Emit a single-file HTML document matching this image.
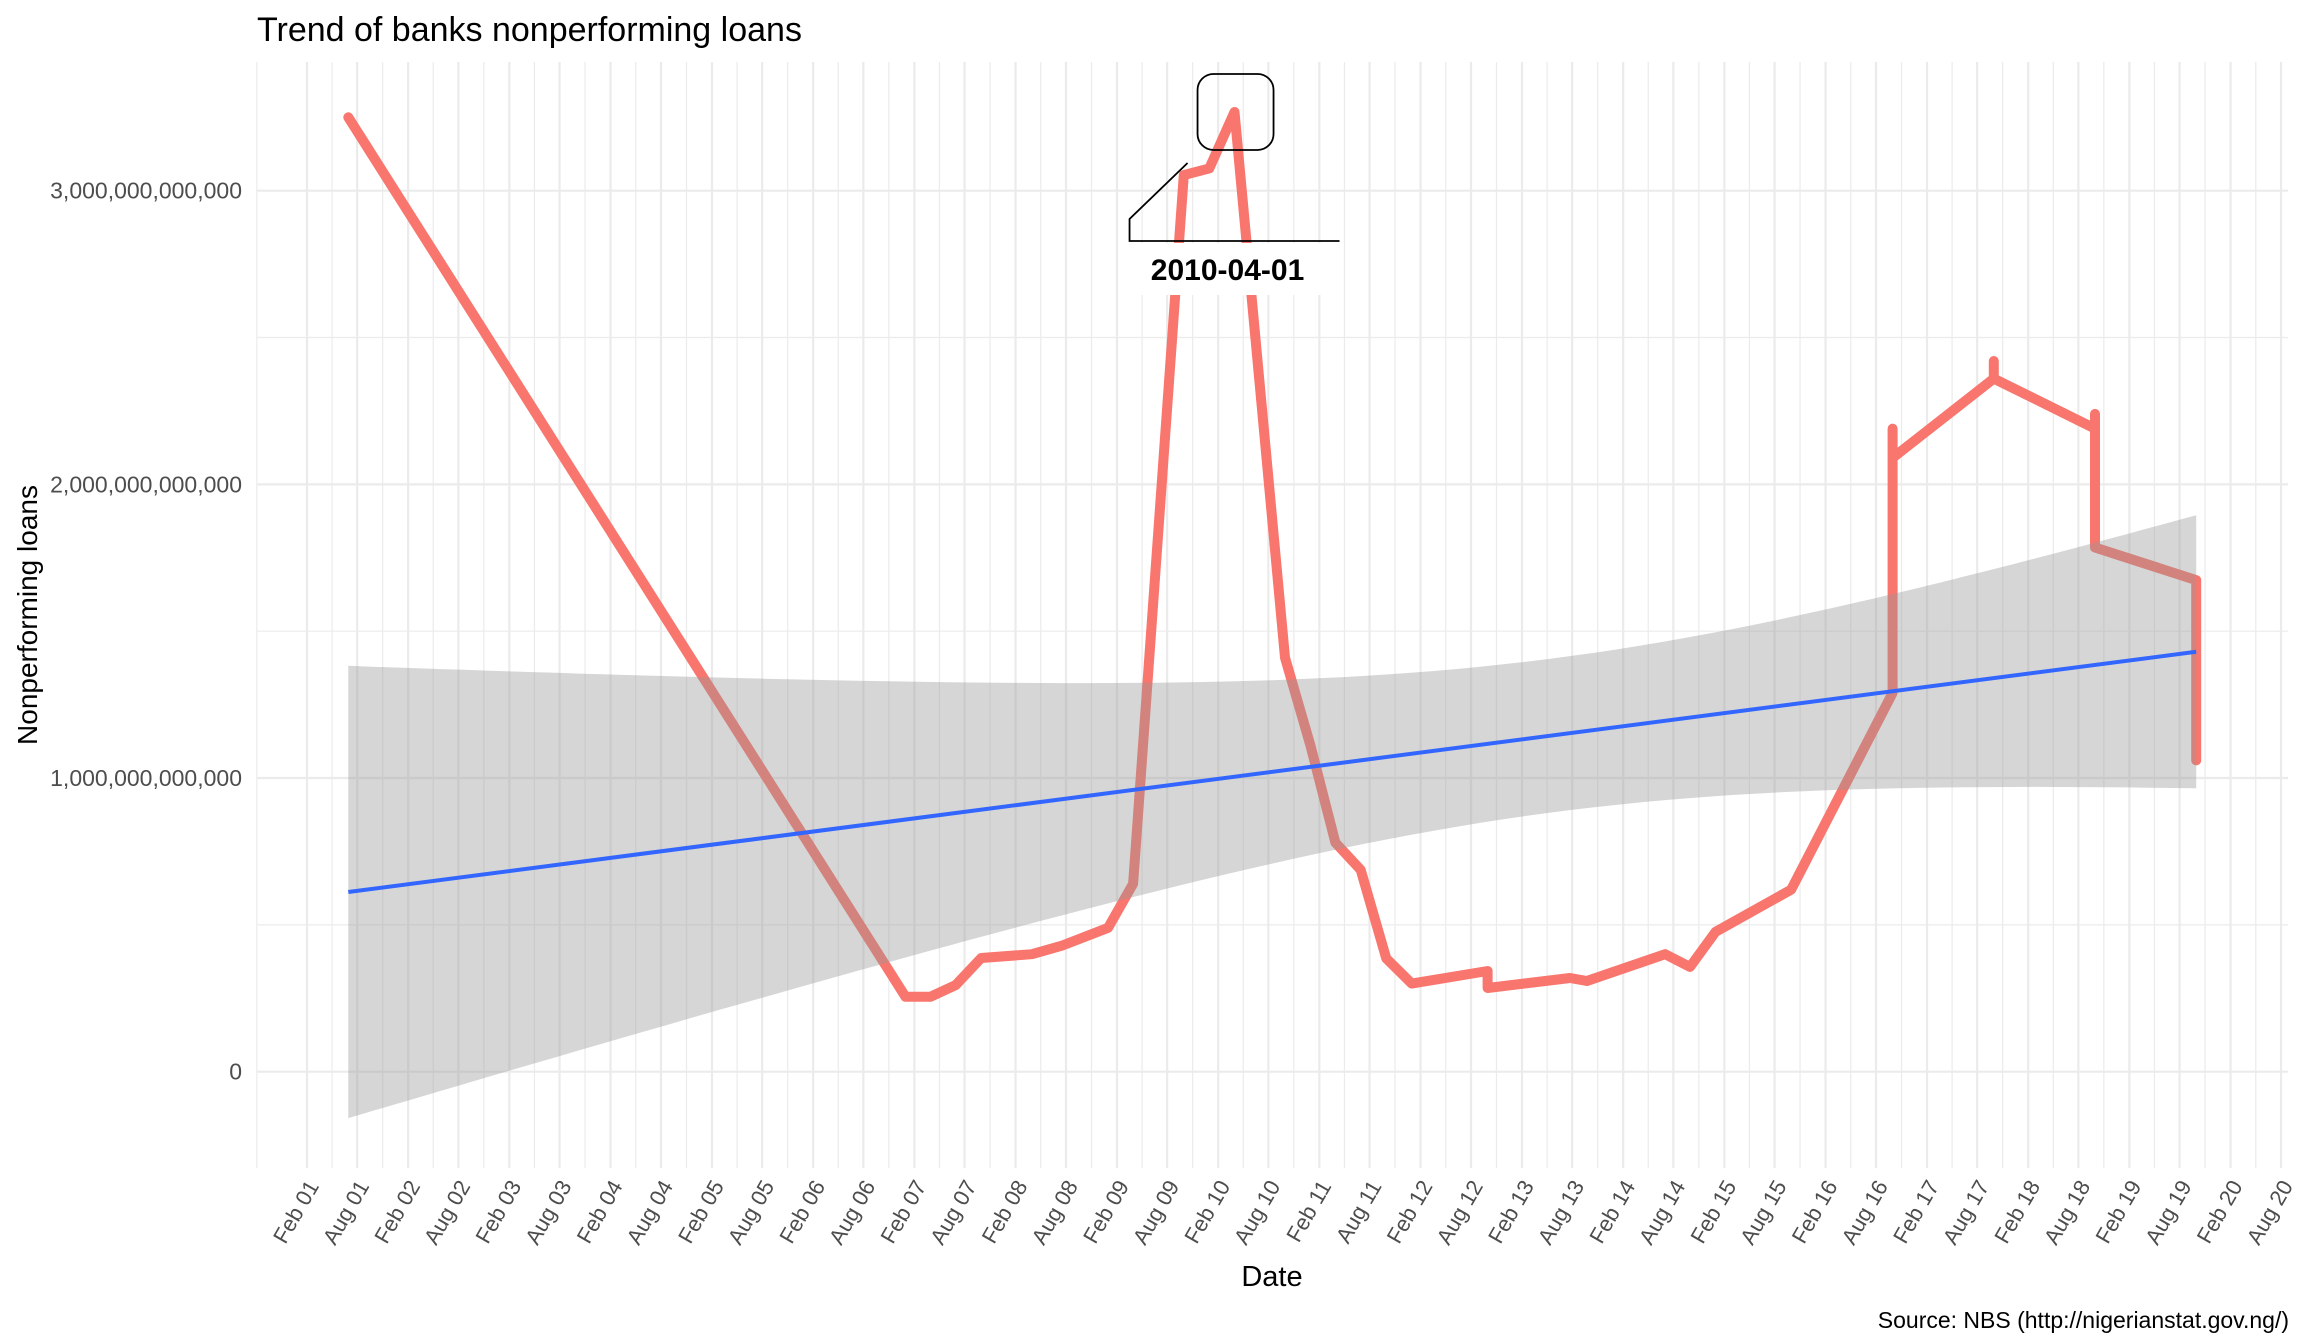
<!DOCTYPE html>
<html><head><meta charset="utf-8"><style>
html,body{margin:0;padding:0;background:#fff}
svg{display:block;font-family:"Liberation Sans",Arial,sans-serif}
</style></head><body>
<svg id="chart" width="2304" height="1344" viewBox="0 0 2304 1344" xmlns="http://www.w3.org/2000/svg">
<rect width="2304" height="1344" fill="#fff"/>
<g id="grid"></g>
<g id="marks"></g>
<g id="axes"></g>
<text x="257" y="41" font-size="34" fill="#000">Trend of banks nonperforming loans</text>
<text transform="translate(37,615) rotate(-90)" text-anchor="middle" font-size="28" fill="#000">Nonperforming loans</text>
<text x="1272" y="1286" text-anchor="middle" font-size="29" fill="#000">Date</text>
<text x="2289" y="1328" text-anchor="end" font-size="23" fill="#000">Source: NBS (http://nigerianstat.gov.ng/)</text>
</svg>
<script>
// ---- data (values in trillions of naira) ----
const dates = ["2001-06-30","2006-12-31","2007-03-31","2007-06-30","2007-09-30","2008-03-31","2008-07-20","2008-12-31","2009-03-31","2009-09-30","2009-12-31","2010-04-01","2010-09-30","2010-12-31","2011-03-31","2011-06-30","2011-09-30","2011-12-31","2012-09-30","2012-09-30","2013-07-24","2013-09-23","2014-07-02","2014-09-30","2014-12-31","2015-09-30","2016-09-30","2016-09-30","2016-09-30","2017-09-30","2017-09-30","2017-09-30","2018-09-30","2018-09-30","2018-09-30","2019-09-30","2019-09-30"];
const npl = [3.25,0.255,0.255,0.295,0.387,0.40,0.43,0.49,0.64,3.053,3.076,3.268,1.41,1.11,0.78,0.687,0.386,0.30,0.343,0.285,0.319,0.309,0.40,0.357,0.476,0.62,1.29,2.19,2.09,2.36,2.42,2.36,2.19,2.24,1.785,1.674,1.06];
const fitDates = ["2001-06-30","2019-09-30"];
const fitValues = [0.612,1.43];
const ciHalfWidth = [0.770,0.262,0.465]; // at start, minimum, end
const yTicks = [0,1,2,3];
const yTickLabels = ["0","1,000,000,000,000","2,000,000,000,000","3,000,000,000,000"];
const yMinor = [0.5,1.5,2.5];
const xTickDates = [];
const xTickLabels = [];
const months = ["Feb","Aug"];
for (let yr=1; yr<=20; yr++){ for (let m=0;m<2;m++){ const yy=String(yr).padStart(2,'0'); xTickDates.push("20"+yy+(m===0?"-02-01":"-08-01")); xTickLabels.push(months[m]+" "+yy);} }
const annotationDate = "2010-04-01";
const annotationLabel = "2010-04-01";

// ---- scales ----
const NS="http://www.w3.org/2000/svg";
const P={l:257,r:2288,t:62,b:1168};
const d0=Date.UTC(2001,1,1);
function days(s){const a=s.split('-');return (Date.UTC(+a[0],+a[1]-1,+a[2])-d0)/86400000;}
function X(s){return 307+days(s)*0.27721;}
function Y(v){return 1071.7-v*293.67;}
function mk(tag,attrs,parent){const e=document.createElementNS(NS,tag);for(const k in attrs)e.setAttribute(k,attrs[k]);parent.appendChild(e);return e;}

const grid=document.getElementById('grid'), marks=document.getElementById('marks'), axes=document.getElementById('axes');
yMinor.forEach(v=>{const l=mk('line',{x1:P.l,x2:P.r,y1:Y(v),y2:Y(v),stroke:'#ebebeb','stroke-width':1.2},grid);

});
yTicks.forEach((v,i)=>{const l=mk('line',{x1:P.l,x2:P.r,y1:Y(v),y2:Y(v),stroke:'#ebebeb','stroke-width':2.2},grid);


const t=mk('text',{x:242,y:Y(v)+8,'text-anchor':'end','font-size':23,fill:'#4d4d4d'},axes);t.textContent=yTickLabels[i];

});
const xs=xTickDates.map(X);
const minorX=[xs[0]-(xs[1]-xs[0])];
for(let i=0;i<xs.length-1;i++)minorX.push((xs[i]+xs[i+1])/2);
minorX.forEach(x=>{if(x<P.l-1||x>P.r)return;const l=mk('line',{x1:x,x2:x,y1:P.t,y2:P.b,stroke:'#ebebeb','stroke-width':1.2},grid);

});
xs.forEach((x,i)=>{const l=mk('line',{x1:x,x2:x,y1:P.t,y2:P.b,stroke:'#ebebeb','stroke-width':2.2},grid);


const t=mk('text',{transform:'translate('+(x+6)+',1182) rotate(-60)','text-anchor':'end','font-size':22,fill:'#4d4d4d',dy:'0.35em'},axes);t.textContent=xTickLabels[i];

});

const pts=dates.map((d,i)=>X(d).toFixed(1)+','+Y(npl[i]).toFixed(1)).join(' ');
const pl=mk('polyline',{points:pts,fill:'none',stroke:'#F8766D','stroke-width':10,'stroke-linejoin':'round','stroke-linecap':'round'},marks);



const xa=X(fitDates[0]), xb=X(fitDates[1]);
const ws=ciHalfWidth[0], wm=ciHalfWidth[1], we=ciHalfWidth[2];
const a=wm*wm, r=Math.sqrt((ws*ws-a)/(we*we-a)), m=r/(1+r), bcoef=(ws*ws-a)/(m*m);
const up=[],lo=[];
const N=80;
for(let i=0;i<=N;i++){const t=i/N;const v=fitValues[0]+(fitValues[1]-fitValues[0])*t;const w=Math.sqrt(a+bcoef*(t-m)*(t-m));const x=xa+(xb-xa)*t;up.push(x.toFixed(1)+','+Y(v+w).toFixed(1));lo.push(x.toFixed(1)+','+Y(v-w).toFixed(1));}
const rib=mk('polygon',{points:up.concat(lo.reverse()).join(' '),fill:'#999999','fill-opacity':0.4},marks);


const fl=mk('line',{x1:xa,y1:Y(fitValues[0]),x2:xb,y2:Y(fitValues[1]),stroke:'#3366FF','stroke-width':4},marks);



const ai=dates.indexOf(annotationDate);
const ax=X(annotationDate), ay=Y(npl[ai]);
const box=mk('rect',{x:ax-37,y:ay-38,width:76,height:76,rx:16,fill:'none',stroke:'#000','stroke-width':1.8},marks);


const bg=mk('rect',{x:ax-105,y:ay+131,width:210,height:52,fill:'#fff'},marks);


const cl=mk('polyline',{points:(ax-47)+','+(ay+51)+' '+(ax-105)+','+(ay+107)+' '+(ax-105)+','+(ay+129)+' '+(ax+105)+','+(ay+129),fill:'none',stroke:'#000','stroke-width':1.8},marks);


const at=mk('text',{x:ax-7,y:ay+168,'text-anchor':'middle','font-size':30,'font-weight':'bold',fill:'#000'},marks);
at.textContent=annotationLabel;


</script>
</body></html>
